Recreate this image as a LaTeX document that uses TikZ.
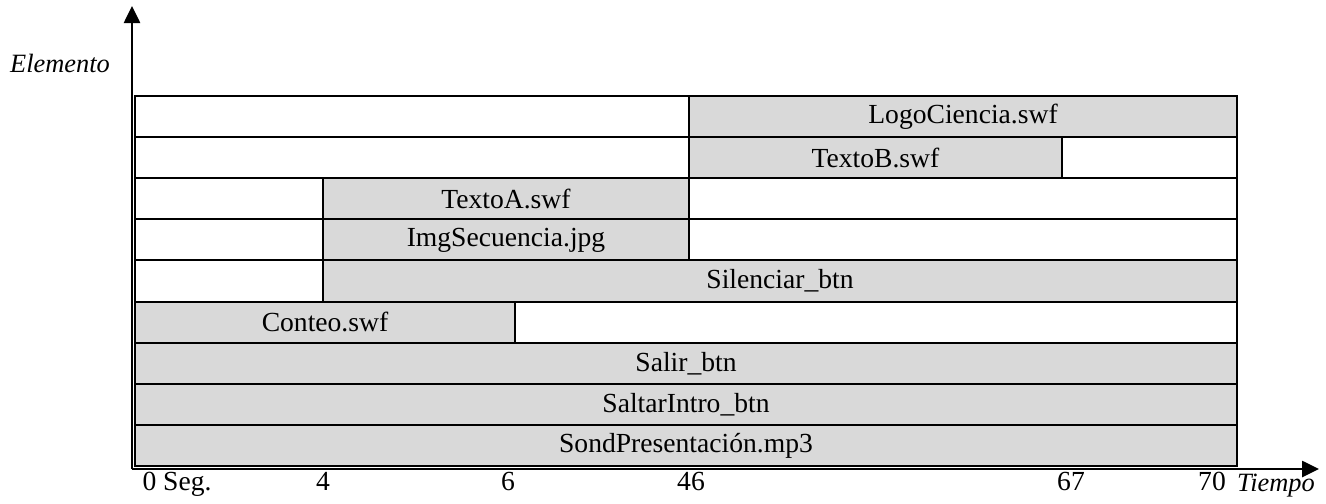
\documentclass[tikz,border=0pt]{standalone}
\usepackage{fontspec}
\setmainfont{Liberation Serif}
\usetikzlibrary{arrows.meta}
\definecolor{cellgray}{HTML}{D9D9D9}
\begin{document}
\begin{tikzpicture}[x=0.5pt,y=-0.5pt,
  every node/.style={font=\fontsize{13.8}{15}\selectfont, inner sep=0pt},
  cellw/.style={draw=black, line width=1pt, fill=white},
  cellg/.style={draw=black, line width=1pt, fill=cellgray},
  axis/.style={draw=black, line width=1.3pt, -{Triangle[width=8pt,length=8.5pt]}},
  axlabel/.style={anchor=base},
  axname/.style={font=\fontsize{13.2}{15}\selectfont\itshape}]
\useasboundingbox (0,0) rectangle (1326,503);
% row tops
\def\ra{96}\def\rb{137.1}\def\rc{178.2}\def\rd{219.3}\def\re{260.4}
\def\rf{301.6}\def\rg{342.7}\def\rh{383.8}\def\ri{424.9}\def\rj{466}
% column positions
\def\ca{135}\def\cb{323}\def\cc{515}\def\cd{689}\def\ce{1062}\def\cf{1237}
% row 1
\draw[cellw] (\ca,\ra) rectangle (\cd,\rb);
\draw[cellg] (\cd,\ra) rectangle (\cf,\rb);
\node (logo) at ({(\cd+\cf)/2},{(\ra+\rb)/2}) {LogoCiencia.swf};
% row 2
\draw[cellw] (\ca,\rb) rectangle (\cd,\rc);
\draw[cellg] (\cd,\rb) rectangle (\ce,\rc);
\draw[cellw] (\ce,\rb) rectangle (\cf,\rc);
\node (textob) at ({(\cd+\ce)/2},{(\rb+\rc)/2}) {TextoB.swf};
% row 3
\draw[cellw] (\ca,\rc) rectangle (\cb,\rd);
\draw[cellg] (\cb,\rc) rectangle (\cd,\rd);
\draw[cellw] (\cd,\rc) rectangle (\cf,\rd);
\node (textoa) at ({(\cb+\cd)/2},{(\rc+\rd)/2}) {TextoA.swf};
% row 4
\draw[cellw] (\ca,\rd) rectangle (\cb,\re);
\draw[cellg] (\cb,\rd) rectangle (\cd,\re);
\draw[cellw] (\cd,\rd) rectangle (\cf,\re);
\node (img) at ({(\cb+\cd)/2},{(\rd+\re)/2}) {ImgSecuencia.jpg};
% row 5
\draw[cellw] (\ca,\re) rectangle (\cb,\rf);
\draw[cellg] (\cb,\re) rectangle (\cf,\rf);
\node (silenciar) at ({(\cb+\cf)/2},{(\re+\rf)/2}) {Silenciar\_btn};
% row 6
\draw[cellg] (\ca,\rf) rectangle (\cc,\rg);
\draw[cellw] (\cc,\rf) rectangle (\cf,\rg);
\node (conteo) at ({(\ca+\cc)/2},{(\rf+\rg)/2}) {Conteo.swf};
% row 7
\draw[cellg] (\ca,\rg) rectangle (\cf,\rh);
\node (salir) at ({(\ca+\cf)/2},{(\rg+\rh)/2}) {Salir\_btn};
% row 8
\draw[cellg] (\ca,\rh) rectangle (\cf,\ri);
\node (saltar) at ({(\ca+\cf)/2},{(\rh+\ri)/2}) {SaltarIntro\_btn};
% row 9
\draw[cellg] (\ca,\ri) rectangle (\cf,\rj);
\node (sond) at ({(\ca+\cf)/2},{(\ri+\rj)/2}) {SondPresentación.mp3};
% axes
\coordinate (o) at (132,469);
\coordinate (ytip) at (132,6);
\coordinate (xtip) at (1319,469);
\draw[axis] (o) -- (ytip);
\draw[axis] (o) -- (xtip);
% labels
\node[axname] (elemento) at (60,63) {Elemento};
\node[axname, anchor=base] (tiempo) at (1276,491) {Tiempo};
\node[axlabel] (t0) at (177,490) {0 Seg.};
\node[axlabel] (t4) at (323,490) {4};
\node[axlabel] (t6) at (508,490) {6};
\node[axlabel] (t46) at (691,490) {46};
\node[axlabel] (t67) at (1071,490) {67};
\node[axlabel] (t70) at (1212,490) {70};
\end{tikzpicture}
\end{document}
